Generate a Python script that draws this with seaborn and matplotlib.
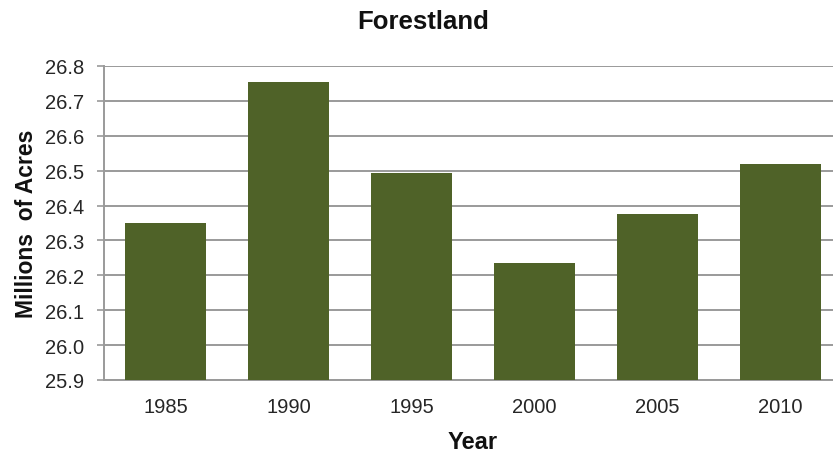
import matplotlib
matplotlib.use("Agg")
import matplotlib.pyplot as plt
import seaborn as sns
import pandas as pd
import numpy as np

# Forestland area by survey year (millions of acres)
years = ["1985", "1990", "1995", "2000", "2005", "2010"]
acres = [26.35, 26.755, 26.494, 26.235, 26.375, 26.519]
y_ticks = [25.9, 26.0, 26.1, 26.2, 26.3, 26.4, 26.5, 26.6, 26.7, 26.8]

bar_color = "#4f6228"
grid_color = "#9a9a9a"
text_color = "#262626"

sns.set_style("white")
plt.rcParams["font.family"] = ["Liberation Sans", "DejaVu Sans"]

df = pd.DataFrame({"Year": years, "Acres": acres})

fig = plt.figure(figsize=(8.33, 4.52), dpi=100)
W, H = 833, 452
ax = fig.add_axes([104 / W, (H - 381) / H, 738 / W, 314 / H])

sns.barplot(data=df, x="Year", y="Acres", color=bar_color, saturation=1,
            width=0.66, linewidth=0, edgecolor=bar_color, ax=ax, zorder=3)

ax.set_ylim(25.9, 26.8)
ax.set_yticks(y_ticks)
ax.set_yticklabels([f"{v:.1f}" for v in y_ticks])
ax.set_xlim(-0.5, len(years) - 0.5)

ax.yaxis.grid(True, color=grid_color, linewidth=1.4, zorder=0)
ax.set_axisbelow(True)

for side in ["top", "right"]:
    ax.spines[side].set_visible(False)
for side in ["left", "bottom"]:
    ax.spines[side].set_color(grid_color)
    ax.spines[side].set_linewidth(1.4)

# category labels at bar centres, tick marks between categories
ax.tick_params(axis="x", which="major", length=0, pad=12,
               labelsize=14.5, labelcolor=text_color)
ax.set_xticks(np.arange(-0.5, len(years)), minor=True)
ax.tick_params(axis="x", which="minor", length=5, width=1.2,
               color=grid_color, direction="out")
ax.tick_params(axis="y", length=5, width=1.2, color=grid_color,
               pad=9, labelsize=14.5, labelcolor=text_color, left=True)

ax.set_xlabel("Year", fontsize=17, fontweight="bold", color="#111111",
              labelpad=10)
ax.set_ylabel("Millions  of Acres", fontsize=16.5, fontweight="bold",
              color="#111111", labelpad=5)

fig.text(423 / W, 1 - 22 / H, "Forestland", ha="center", va="center",
         fontsize=18.5, fontweight="bold", color="#111111")

fig.savefig("out.png", dpi=100, facecolor="white")
